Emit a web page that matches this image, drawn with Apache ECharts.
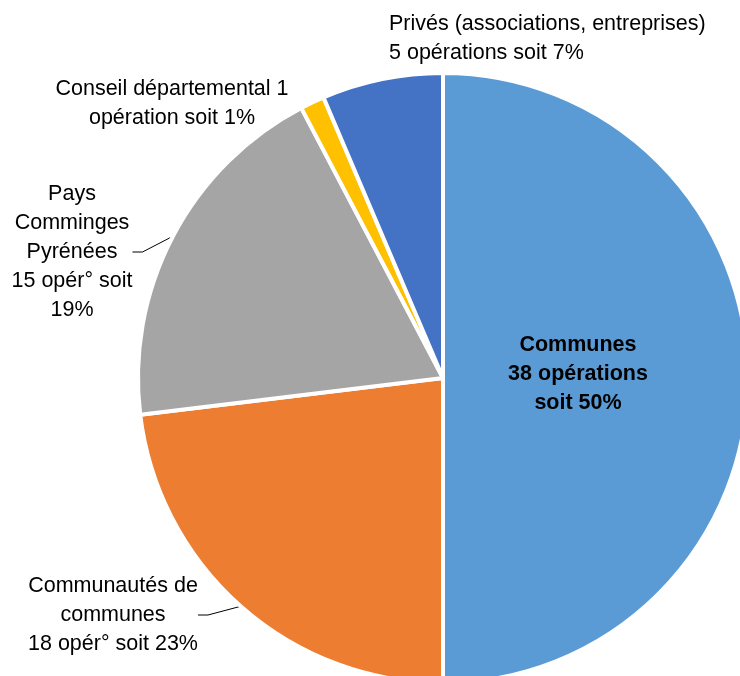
<!DOCTYPE html>
<html>
<head>
<meta charset="utf-8">
<title>Opérations par porteur</title>
<script src="https://cdn.jsdelivr.net/npm/echarts@6/dist/echarts.min.js"></script>
<style>
  html, body { margin: 0; padding: 0; background: #ffffff; }
  #chart { width: 740px; height: 676px; }
</style>
</head>
<body>
<div id="chart"></div>
<script>
// donnees (taille des parts)
var categories = ["Communes", "Communautés de communes", "Pays Comminges Pyrénées", "Conseil départemental", "Privés"];
var operations = [39, 18, 15, 1, 5];
var labelTexts = [
  "Communes\n38 opérations\nsoit 50%",
  "Communautés de\ncommunes\n18 opér° soit 23%",
  "Pays\nComminges\nPyrénées\n15 opér° soit\n19%",
  "Conseil départemental 1\nopération soit 1%",
  "Privés (associations, entreprises)\n5 opérations soit 7%"
];
var colors = ["#5b9bd5", "#ed7d31", "#a5a5a5", "#ffc000", "#4472c4"];

// emplacement des etiquettes (x, y, alignement)
var labelPos = [
  { x: 578, y: 374, align: "center" },
  { x: 113, y: 615, align: "center" },
  { x: 72, y: 252, align: "center" },
  { x: 172, y: 104, align: "center" },
  { x: 389, y: 39, align: "left" }
];
var withLine = [false, true, true, false, false];

var chart = echarts.init(document.getElementById("chart"));

var pieData = categories.map(function (name, i) {
  return {
    name: name,
    value: operations[i],
    itemStyle: { color: colors[i] },
    label: i === 0 ? { fontWeight: "bold" } : {},
    labelLine: { show: withLine[i] }
  };
});

var option = {
  backgroundColor: "#ffffff",
  animation: false,
  series: [
    {
      type: "pie",
      center: [443, 378],
      radius: 305,
      startAngle: 90,
      clockwise: true,
      avoidLabelOverlap: false,
      itemStyle: {
        borderColor: "#ffffff",
        borderWidth: 4
      },
      label: {
        show: true,
        position: "outside",
        color: "#000000",
        fontFamily: "Liberation Sans, Arial, sans-serif",
        fontSize: 21.5,
        lineHeight: 29,
        formatter: function (p) {
          return labelTexts[p.dataIndex];
        }
      },
      labelLine: {
        length: 10,
        length2: 10,
        lineStyle: { color: "#000000", width: 1 }
      },
      labelLayout: function (params) {
        var pos = labelPos[params.dataIndex];
        return {
          x: pos.x,
          y: pos.y,
          align: pos.align,
          verticalAlign: "middle"
        };
      },
      emphasis: { disabled: true },
      data: pieData
    }
  ]
};

chart.setOption(option);
</script>
</body>
</html>
